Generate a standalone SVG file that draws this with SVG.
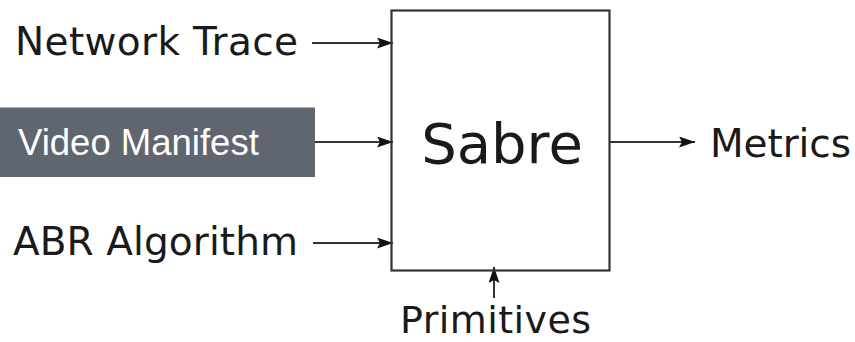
<svg xmlns="http://www.w3.org/2000/svg" width="855" height="342" viewBox="0 0 855 342">
  <defs>
    <marker id="head" markerWidth="16" markerHeight="11" refX="16" refY="5.5" orient="auto" markerUnits="userSpaceOnUse">
      <path d="M0,0 L16,5.5 L0,11 L3,5.5 Z" fill="#111"/>
    </marker>
    <style>
      .lbl { font-family: "DejaVu Sans", sans-serif; font-size: 39px; fill: #1a1a1a; }
      .edge { stroke: #333; stroke-width: 2; fill: none; marker-end: url(#head); }
    </style>
  </defs>
  <rect width="855" height="342" fill="#ffffff"/>

  <g id="connectors">
    <line class="edge" x1="312" y1="43" x2="393" y2="43"/>
    <line class="edge" x1="315" y1="142" x2="393" y2="142"/>
    <line class="edge" x1="313" y1="243" x2="393" y2="243"/>
    <line class="edge" x1="610" y1="142" x2="695" y2="142"/>
    <line class="edge" x1="494" y1="298" x2="494" y2="267"/>
  </g>

  <g id="sabre">
    <rect x="391.5" y="10.5" width="218" height="260" fill="none" stroke="#333" stroke-width="2.2"/>
    <text x="502" y="163" text-anchor="middle" style="font-family:'DejaVu Sans',sans-serif;font-size:56px;fill:#1a1a1a">Sabre</text>
  </g>

  <g id="network-trace">
    <text class="lbl" x="15" y="55" textLength="283">Network Trace</text>
  </g>

  <g id="video-manifest">
    <rect x="0" y="107.5" width="315" height="69.5" fill="#5f666f"/>
    <text x="18" y="155" style="font-family:'Liberation Sans',Arial,sans-serif;font-size:36.5px;fill:#ffffff">Video Manifest</text>
  </g>

  <g id="abr-algorithm">
    <text class="lbl" x="13" y="255" textLength="285">ABR Algorithm</text>
  </g>

  <g id="metrics">
    <text class="lbl" x="710" y="157" textLength="141">Metrics</text>
  </g>

  <g id="primitives">
    <text class="lbl" x="400" y="333" textLength="191" style="font-size:38px">Primitives</text>
  </g>
</svg>
